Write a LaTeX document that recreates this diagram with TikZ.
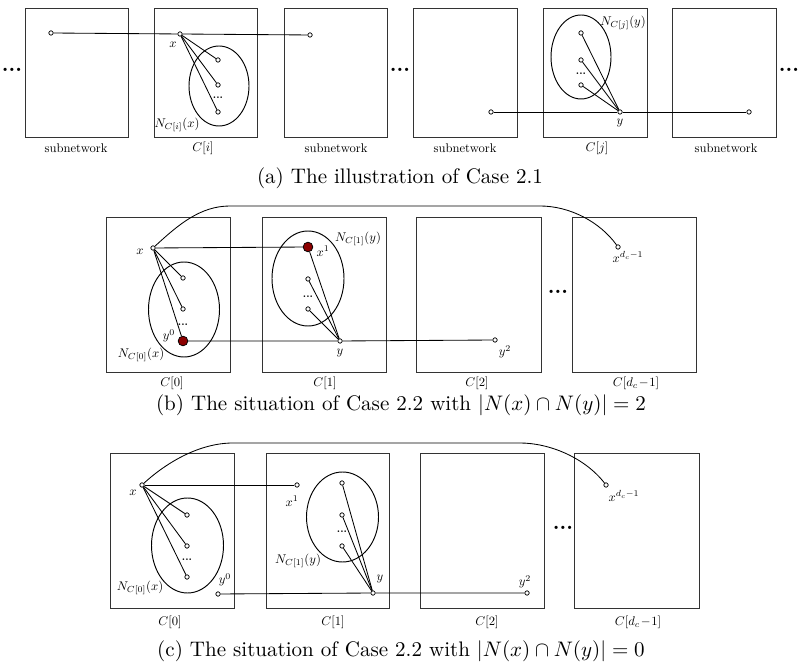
\documentclass[tikz,border=0pt]{standalone}
\usepackage{amsmath}
\usepackage{graphicx}
\newcommand{\lbx}[1]{\scalebox{0.6}{#1}}
\newcommand{\idt}{\scalebox{0.5}{\textbf{...}}}
\begin{document}
\begin{tikzpicture}[x=0.4755pt,y=-0.4755pt,
  boxr/.style={draw=black!80,line width=0.42pt},
  edge/.style={line width=0.4pt},
  vx/.style={circle,draw,line width=0.35pt,inner sep=0pt,minimum size=2.1pt},
  rvx/.style={circle,draw,line width=0.35pt,fill=red!55!black,inner sep=0pt,minimum size=4.6pt},
  lab/.style={font=\normalsize,inner sep=0pt},
  captxt/.style={font=\fontsize{10}{12}\selectfont,inner sep=0pt},
  bdots/.style={font=\normalsize\bfseries,inner sep=0pt},
  idots/.style={inner sep=0pt},
  ell/.style={line width=0.45pt}]
\useasboundingbox (0,0) rectangle (802,671);

% ================= (a) =================
\draw[boxr] (25,8) rectangle (128,137);
\draw[boxr] (154,8) rectangle (257,137);
\draw[boxr] (284,8) rectangle (387,137);
\draw[boxr] (413,8) rectangle (517,137);
\draw[boxr] (543,8) rectangle (647,137);
\draw[boxr] (672,8) rectangle (776,137);
\node[bdots] (ad1) at (12,70) {...};
\node[bdots] (ad2) at (400,70) {...};
\node[bdots] (ad3) at (789,70) {...};
\node[lab] (as1) at (76,148) {\lbx{subnetwork}};
\node[lab] (aci) at (203,148) {\lbx{$C[i]$}};
\node[lab] (as3) at (336,148) {\lbx{subnetwork}};
\node[lab] (as4) at (465,148) {\lbx{subnetwork}};
\node[lab] (acj) at (597,148) {\lbx{$C[j]$}};
\node[lab] (as6) at (726,148) {\lbx{subnetwork}};
\node[captxt] (acap) at (400,178) {(a) The illustration of Case 2.1};

\draw[ell] (219,86) ellipse [x radius=30,y radius=40];
\node[vx] (a1) at (51,33) {};
\node[vx] (ax) at (180,34) {};
\node[vx] (a2) at (310,35) {};
\node[vx] (an1) at (218,60) {};
\node[vx] (an2) at (218,85) {};
\node[vx] (an3) at (218,112) {};
\node[idots] (and) at (218,98) {\idt};
\node[lab] (axl) at (173,45) {\lbx{$x$}};
\node[lab] (anl) at (177,125) {\lbx{$N_{C[i]}(x)$}};
\draw[edge] (a1) -- (ax) -- (a2);
\draw[edge] (ax) -- (an1);
\draw[edge] (ax) -- (an2);
\draw[edge] (ax) -- (an3);

\draw[ell] (581,57) ellipse [x radius=30,y radius=42];
\node[vx] (bn1) at (581,33) {};
\node[vx] (bn2) at (581,60) {};
\node[vx] (bn3) at (581,85) {};
\node[idots] (bnd) at (581,74) {\idt};
\node[vx] (ay) at (620,112) {};
\node[vx] (a3) at (491,112) {};
\node[vx] (a4) at (749,112) {};
\node[lab] (ayl) at (620,123) {\lbx{$y$}};
\node[lab] (bnl) at (623,23) {\lbx{$N_{C[j]}(y)$}};
\draw[edge] (a3) -- (ay) -- (a4);
\draw[edge] (ay) -- (bn1);
\draw[edge] (ay) -- (bn2);
\draw[edge] (ay) -- (bn3);

% ================= (b) =================
\draw[boxr] (106,217) rectangle (230,372);
\draw[boxr] (262,217) rectangle (386,372);
\draw[boxr] (416,217) rectangle (541,372);
\draw[boxr] (572,217) rectangle (696,372);
\node[bdots] (bd) at (558,292) {...};
\node[lab] (bc0) at (172,383) {\lbx{$C[0]$}};
\node[lab] (bc1) at (325,383) {\lbx{$C[1]$}};
\node[lab] (bc2) at (477,383) {\lbx{$C[2]$}};
\node[lab] (bc3) at (636,383) {\lbx{$C[d_c\!-\!1]$}};
\node[captxt] (bcap) at (401,405) {(b) The situation of Case 2.2 with $|N(x)\cap N(y)|=2$};

\draw[ell] (184,309.5) ellipse [x radius=35.5,y radius=47.5];
\draw[ell] (308,278.5) ellipse [x radius=36,y radius=47.5];
\node[vx] (bx) at (153,248) {};
\node[rvx] (bx1) at (308,247) {};
\node[vx] (bxd) at (618,247) {};
\node[vx] (bp1) at (183,278) {};
\node[vx] (bp2) at (183,309) {};
\node[idots] (bpd) at (183,325) {\idt};
\node[rvx] (by0) at (183,341) {};
\node[vx] (bq1) at (308,279) {};
\node[idots] (bqd) at (308,297) {\idt};
\node[vx] (bq2) at (308,309) {};
\node[vx] (by) at (340,341) {};
\node[vx] (by2) at (495,340) {};
\coordinate (bk1) at (230,206);
\coordinate (bk2) at (540,206);
\draw[edge] (bx) .. controls (178,225) and (200,206) .. (bk1) -- (bk2)
  .. controls (570,206) and (600,222) .. (bxd);
\draw[edge] (bx) -- (bx1);
\draw[edge] (bx) -- (bp1);
\draw[edge] (bx) -- (bp2);
\draw[edge] (bx) -- (by0);
\draw[edge] (by0) -- (by) -- (by2);
\draw[edge] (by) -- (bx1);
\draw[edge] (by) -- (bq1);
\draw[edge] (by) -- (bq2);
\node[lab] (bxl) at (140,252) {\lbx{$x$}};
\node[lab] (bx1l) at (323,251) {\lbx{$x^1$}};
\node[lab] (bxdl) at (628,257) {\lbx{$x^{d_c-1}$}};
\node[lab] (bnyl) at (358,239) {\lbx{$N_{C[1]}(y)$}};
\node[lab] (by0l) at (169,336) {\lbx{$y^0$}};
\node[lab] (bnxl) at (141,355) {\lbx{$N_{C[0]}(x)$}};
\node[lab] (byl) at (340,353) {\lbx{$y$}};
\node[lab] (by2l) at (505,352) {\lbx{$y^2$}};

% ================= (c) =================
\draw[boxr] (110,453) rectangle (234,608);
\draw[boxr] (266,453) rectangle (389,608);
\draw[boxr] (420,453) rectangle (544,608);
\draw[boxr] (574,453) rectangle (699,608);
\node[bdots] (cd) at (563,528) {...};
\node[lab] (cc0) at (170,622) {\lbx{$C[0]$}};
\node[lab] (cc1) at (333,622) {\lbx{$C[1]$}};
\node[lab] (cc2) at (487,622) {\lbx{$C[2]$}};
\node[lab] (cc3) at (638,622) {\lbx{$C[d_c\!-\!1]$}};
\node[captxt] (ccap) at (401,651) {(c) The situation of Case 2.2 with $|N(x)\cap N(y)|=0$};

\draw[ell] (187.5,545.5) ellipse [x radius=36,y radius=47.5];
\draw[ell] (342.5,517) ellipse [x radius=36,y radius=45];
\node[vx] (cx) at (142,485) {};
\node[vx] (cx1) at (297,485) {};
\node[vx] (cxd) at (606,485) {};
\node[vx] (cp1) at (187,515) {};
\node[vx] (cp2) at (187,546) {};
\node[idots] (cpd) at (187,560) {\idt};
\node[vx] (cp3) at (187,577) {};
\node[vx] (cq1) at (342,483) {};
\node[vx] (cq2) at (342,515) {};
\node[idots] (cqd) at (342,532) {\idt};
\node[vx] (cq3) at (342,546) {};
\node[vx] (cy0) at (218,594) {};
\node[vx] (cy) at (373,593) {};
\node[vx] (cy2) at (527,593) {};
\coordinate (ck1) at (233,443);
\coordinate (ck2) at (520,443);
\draw[edge] (cx) .. controls (167,462) and (200,443) .. (ck1) -- (ck2)
  .. controls (550,443) and (585,458) .. (cxd);
\draw[edge] (cx) -- (cx1);
\draw[edge] (cx) -- (cp1);
\draw[edge] (cx) -- (cp2);
\draw[edge] (cx) -- (cp3);
\draw[edge] (cy0) -- (cy) -- (cy2);
\draw[edge] (cy) -- (cq1);
\draw[edge] (cy) -- (cq2);
\draw[edge] (cy) -- (cq3);
\node[lab] (cxl) at (133,493) {\lbx{$x$}};
\node[lab] (cx1l) at (292,501) {\lbx{$x^1$}};
\node[lab] (cxdl) at (624,496) {\lbx{$x^{d_c-1}$}};
\node[lab] (cnyl) at (298,561) {\lbx{$N_{C[1]}(y)$}};
\node[lab] (cnxl) at (140,588) {\lbx{$N_{C[0]}(x)$}};
\node[lab] (cy0l) at (225,580) {\lbx{$y^0$}};
\node[lab] (cyl) at (380,579) {\lbx{$y$}};
\node[lab] (cy2l) at (525,582) {\lbx{$y^2$}};
\end{tikzpicture}
\end{document}
